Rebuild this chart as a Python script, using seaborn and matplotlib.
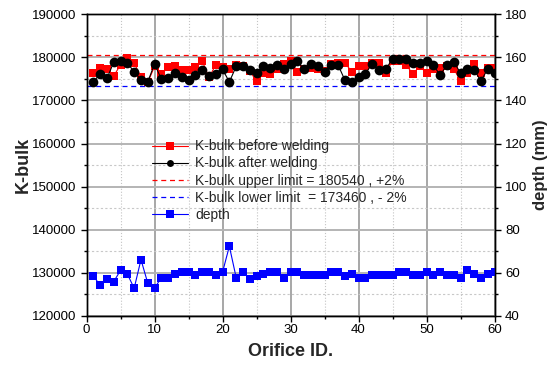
import matplotlib
matplotlib.use("Agg")
import matplotlib.pyplot as plt
import seaborn as sns
from matplotlib.ticker import MultipleLocator

# Data
orifice = list(range(1, 61))

kbulk_before = [176400, 177600, 177400, 175700, 178300, 179800, 178700, 175400, 174200, 177900,
                176100, 177700, 177900, 177000, 177000, 177700, 179200, 175400, 178200, 177700,
                177200, 178200, 177900, 176800, 174500, 176400, 176200, 177200, 178500, 179100,
                176700, 177400, 177600, 177200, 176800, 178500, 178700, 178700, 176700, 177900,
                177900, 178700, 178700, 176400, 179200, 179200, 178200, 176200, 177900, 176400,
                177200, 177600, 177900, 177400, 174500, 176400, 178500, 176400, 177500, 177500]

kbulk_after = [174300, 176200, 175100, 178900, 179100, 178600, 176700, 174800, 174300, 178500,
               174900, 175100, 176400, 175400, 174800, 175900, 177000, 175700, 176200, 177200,
               174300, 177900, 177900, 177000, 176400, 177900, 177600, 178200, 177200, 178500,
               179100, 177200, 178500, 177900, 176700, 178200, 178200, 174700, 174200, 175400,
               176200, 178500, 177000, 177200, 179700, 179700, 179700, 178600, 178600, 179100,
               178200, 175900, 178200, 178900, 176400, 177300, 177100, 174500, 177300, 176400]

depth = [58.6, 54.1, 57.2, 55.9, 61.2, 59.4, 52.8, 66.1, 55.2, 52.8,
         57.8, 57.8, 59.4, 60.3, 60.3, 58.8, 60.3, 60.3, 59.1, 60.3,
         72.3, 57.8, 60.3, 57.2, 58.3, 59.4, 60.3, 60.3, 57.8, 60.3,
         60.3, 59.1, 59.1, 59.1, 59.1, 60.3, 60.3, 58.3, 59.4, 57.8,
         57.8, 59.1, 59.1, 59.1, 59.1, 60.3, 60.3, 59.1, 59.1, 60.3,
         59.1, 60.3, 59.1, 59.1, 57.8, 61.4, 59.2, 57.8, 59.2, 60.5]

upper_limit = 180540
lower_limit = 173460

sns.set_style("ticks")
plt.rcParams['font.family'] = ['Liberation Sans', 'DejaVu Sans']

fig = plt.figure(figsize=(5.55, 3.66), dpi=100)
ax = fig.add_axes([0.156, 0.137, 0.735, 0.824])
ax2 = ax.twinx()

# grid
ax.xaxis.set_major_locator(MultipleLocator(10))
ax.xaxis.set_minor_locator(MultipleLocator(5))
ax.yaxis.set_major_locator(MultipleLocator(10000))
ax.yaxis.set_minor_locator(MultipleLocator(5000))
ax.grid(True, axis='x', which='major', color='#909090', lw=1.1)
ax.grid(True, axis='x', which='minor', color='#c4c4c4', lw=0.8, ls=':')
ax.grid(True, axis='y', which='major', color='#b4b4b4', lw=1.4)
ax.grid(True, axis='y', which='minor', color='#c8c8c8', lw=0.8, ls=(0, (2, 2)))
ax.set_axisbelow(True)

sns.lineplot(x=orifice, y=kbulk_before, ax=ax, color='red', marker='s', markersize=6,
             markeredgecolor='red', markeredgewidth=0, linewidth=0.8,
             label='K-bulk before welding', zorder=3)
sns.lineplot(x=orifice, y=kbulk_after, ax=ax, color='black', marker='o', markersize=7,
             markeredgecolor='black', markeredgewidth=0, linewidth=0.8,
             label='K-bulk after welding', zorder=4)
ax.axhline(upper_limit, color='red', ls=(0, (4, 3)), lw=0.9,
           label='K-bulk upper limit = 180540 , +2%')
ax.axhline(lower_limit, color='blue', ls=(0, (4, 3)), lw=0.9,
           label='K-bulk lower limit  = 173460 , - 2%')

sns.lineplot(x=orifice, y=depth, ax=ax2, color='blue', marker='s', markersize=5.5,
             markeredgecolor='blue', markeredgewidth=0, linewidth=0.8, label='depth')

ax.set_xlim(0, 60)
ax.set_ylim(120000, 190000)
ax2.set_ylim(40, 180)
ax2.yaxis.set_major_locator(MultipleLocator(20))
ax2.yaxis.set_minor_locator(MultipleLocator(10))

for a in (ax, ax2):
    a.tick_params(which='major', direction='out', length=4, width=1, labelsize=9.5, colors='black')
    a.tick_params(which='minor', direction='out', length=2.5, width=1, colors='black')
    for s in a.spines.values():
        s.set_color('black')
        s.set_linewidth(1)
ax.tick_params(axis='x', pad=2)

ax.set_xlabel('Orifice ID.', fontsize=13, fontweight='bold', labelpad=5)
ax.set_ylabel('K-bulk', fontsize=13, fontweight='bold', labelpad=0)
ax2.set_ylabel('depth (mm)', fontsize=12, fontweight='bold', labelpad=4)

h1, l1 = ax.get_legend_handles_labels()
h2, l2 = ax2.get_legend_handles_labels()
ax.get_legend().remove()
ax2.get_legend().remove()
leg = ax2.legend(h1 + h2, l1 + l2, loc='upper left', bbox_to_anchor=(0.16, 0.585),
                 frameon=False, fontsize=10, borderpad=0, borderaxespad=0,
                 labelspacing=0.22, handlelength=2.6, handletextpad=0.5)
leg.legend_handles[1].set_markersize(5)

fig.savefig('out.png', dpi=100)
